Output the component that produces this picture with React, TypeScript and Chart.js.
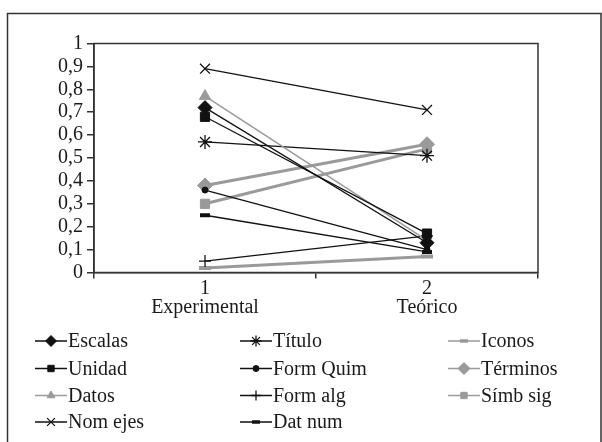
import React, { useEffect, useRef } from 'react';
import { Chart, registerables } from 'chart.js';
import { drawPoint } from 'chart.js/helpers';

Chart.register(...registerables);

const categories = ['1', '2'];
const categoryNames = ['Experimental', 'Teórico'];
const yTicks = [0, 0.1, 0.2, 0.3, 0.4, 0.5, 0.6, 0.7, 0.8, 0.9, 1];

const seriesNames = ['Escalas', 'Unidad', 'Datos', 'Nom ejes', 'Título', 'Form Quim', 'Form alg', 'Dat num', 'Iconos', 'Términos', 'Símb sig'];
const escalas = [0.72, 0.13];
const unidad = [0.68, 0.17];
const datos = [0.77, 0.14];
const nomEjes = [0.89, 0.71];
const titulo = [0.57, 0.51];
const formQuim = [0.36, 0.1];
const formAlg = [0.05, 0.16];
const datNum = [0.25, 0.09];
const iconos = [0.02, 0.07];
const terminos = [0.38, 0.56];
const simbSig = [0.3, 0.54];

const BLACK = '#111111';
const GRAY = '#9a9a9a';
const FONT = '"Liberation Serif", "Times New Roman", serif';

type Style = {
  color: string;
  lineWidth: number;
  pointStyle: string;
  radius: number;
  pointBorderWidth: number;
  legendRadius: number;
  legendLineWidth: number;
};

const styles: Style[] = [
  { color: BLACK, lineWidth: 1.3, pointStyle: 'rectRot', radius: 7, pointBorderWidth: 1, legendRadius: 5.5, legendLineWidth: 1.5 },
  { color: BLACK, lineWidth: 1.3, pointStyle: 'rect', radius: 6.5, pointBorderWidth: 1, legendRadius: 4.5, legendLineWidth: 1.5 },
  { color: GRAY, lineWidth: 1.5, pointStyle: 'triangle', radius: 6.5, pointBorderWidth: 1, legendRadius: 4.5, legendLineWidth: 1.5 },
  { color: BLACK, lineWidth: 1.3, pointStyle: 'crossRot', radius: 7, pointBorderWidth: 1.3, legendRadius: 5.5, legendLineWidth: 1.5 },
  { color: BLACK, lineWidth: 1.3, pointStyle: 'star', radius: 7, pointBorderWidth: 1.3, legendRadius: 5.5, legendLineWidth: 1.5 },
  { color: BLACK, lineWidth: 1.3, pointStyle: 'circle', radius: 3, pointBorderWidth: 1, legendRadius: 3, legendLineWidth: 1.5 },
  { color: BLACK, lineWidth: 1.3, pointStyle: 'cross', radius: 6, pointBorderWidth: 1.3, legendRadius: 5, legendLineWidth: 1.5 },
  { color: BLACK, lineWidth: 1.3, pointStyle: 'line', radius: 5, pointBorderWidth: 4, legendRadius: 4, legendLineWidth: 1.5 },
  { color: GRAY, lineWidth: 3, pointStyle: 'line', radius: 6, pointBorderWidth: 4, legendRadius: 4, legendLineWidth: 1.5 },
  { color: GRAY, lineWidth: 3, pointStyle: 'rectRot', radius: 7.5, pointBorderWidth: 1, legendRadius: 6, legendLineWidth: 1.5 },
  { color: GRAY, lineWidth: 3, pointStyle: 'rect', radius: 6.5, pointBorderWidth: 1, legendRadius: 4.5, legendLineWidth: 1.5 },
];

const seriesValues = [escalas, unidad, datos, nomEjes, titulo, formQuim, formAlg, datNum, iconos, terminos, simbSig];

const legendColumnsX = [35, 240, 448];
const legendRowsY = [341, 368.5, 395.5, 422];
const legendLineLen = 32;

const framePlugin = {
  id: 'framePlugin',
  beforeDraw(chart: any) {
    const ctx = chart.ctx;
    ctx.save();
    ctx.fillStyle = '#ffffff';
    ctx.fillRect(0, 0, chart.width, chart.height);
    ctx.strokeStyle = '#333333';
    ctx.lineWidth = 1.5;
    ctx.strokeRect(7.5, 13.5, 593.5, 440);
    ctx.restore();
  },
  afterDatasetsDraw(chart: any) {
    const ctx = chart.ctx;
    const a = chart.chartArea;
    ctx.save();
    ctx.strokeStyle = '#333333';
    ctx.lineWidth = 1.5;
    ctx.strokeRect(a.left, a.top, a.right - a.left, a.bottom - a.top);
    ctx.restore();
  },
  afterDraw(chart: any) {
    const ctx = chart.ctx;
    ctx.save();
    ctx.font = `20px ${FONT}`;
    ctx.textBaseline = 'middle';
    ctx.textAlign = 'left';
    seriesNames.forEach((name, i) => {
      const col = Math.floor(i / 4);
      const row = i % 4;
      const x0 = legendColumnsX[col];
      const y = legendRowsY[row];
      const st = styles[i];
      ctx.strokeStyle = st.color;
      ctx.lineWidth = st.legendLineWidth;
      ctx.beginPath();
      ctx.moveTo(x0, y);
      ctx.lineTo(x0 + legendLineLen, y);
      ctx.stroke();
      ctx.fillStyle = st.color;
      ctx.strokeStyle = st.color;
      const bw = st.pointStyle === 'line' ? 3.5 : st.pointBorderWidth;
      ctx.lineWidth = bw;
      drawPoint(ctx, { pointStyle: st.pointStyle as any, radius: st.legendRadius, rotation: 0, borderWidth: bw }, x0 + legendLineLen / 2, y);
      ctx.fillStyle = '#1a1a1a';
      ctx.fillText(name, x0 + legendLineLen + 1, y + 1);
    });
    ctx.restore();
  },
};

export default function App() {
  const ref = useRef<HTMLCanvasElement | null>(null);
  useEffect(() => {
    if (!ref.current) return;
    const chart = new Chart(ref.current, {
      type: 'line',
      data: {
        labels: categories.map((c, i) => [c, categoryNames[i]]),
        datasets: seriesNames.map((name, i) => ({
          label: name,
          data: seriesValues[i],
          borderColor: styles[i].color,
          backgroundColor: styles[i].color,
          borderWidth: styles[i].lineWidth,
          pointStyle: styles[i].pointStyle as any,
          pointRadius: styles[i].radius,
          pointBackgroundColor: styles[i].color,
          pointBorderColor: styles[i].color,
          pointBorderWidth: styles[i].pointBorderWidth,
          tension: 0,
          fill: false,
        })),
      },
      options: {
        animation: false,
        responsive: false,
        maintainAspectRatio: false,
        layout: { padding: { left: 0, top: 43.5, right: 64, bottom: 0 } },
        plugins: { legend: { display: false }, tooltip: { enabled: false } },
        scales: {
          x: {
            offset: true,
            grid: { display: true, drawOnChartArea: false, offset: true, tickLength: 6, color: '#333333', lineWidth: 1.5 },
            border: { display: true, color: '#333333', width: 1.5 },
            ticks: { color: '#1a1a1a', font: { family: FONT, size: 20, lineHeight: 0.98 }, padding: 0, maxRotation: 0, autoSkip: false },
            afterFit: (scale: any) => { scale.height = 442 - 272.5; },
          },
          y: {
            min: 0,
            max: 1,
            afterBuildTicks: (scale: any) => { scale.ticks = yTicks.map((v) => ({ value: v })); },
            grid: { display: true, drawOnChartArea: false, tickLength: 7, color: '#333333', lineWidth: 1.5 },
            border: { display: true, color: '#333333', width: 1.5 },
            ticks: {
              color: '#1a1a1a',
              autoSkip: false,
              font: { family: FONT, size: 20, lineHeight: 1 },
              padding: 4,
              callback: (v: any) => String(Number(Number(v).toFixed(1))).replace('.', ','),
            },
            afterFit: (scale: any) => { scale.width = 94; },
          },
        },
      },
      plugins: [framePlugin],
    });
    return () => chart.destroy();
  }, []);
  return (
    <div style={{ position: 'fixed', left: 0, top: 0, width: 602, height: 442, background: '#fff' }}>
      <canvas ref={ref} width={602} height={442} style={{ width: 602, height: 442, display: 'block' }} />
    </div>
  );
}
